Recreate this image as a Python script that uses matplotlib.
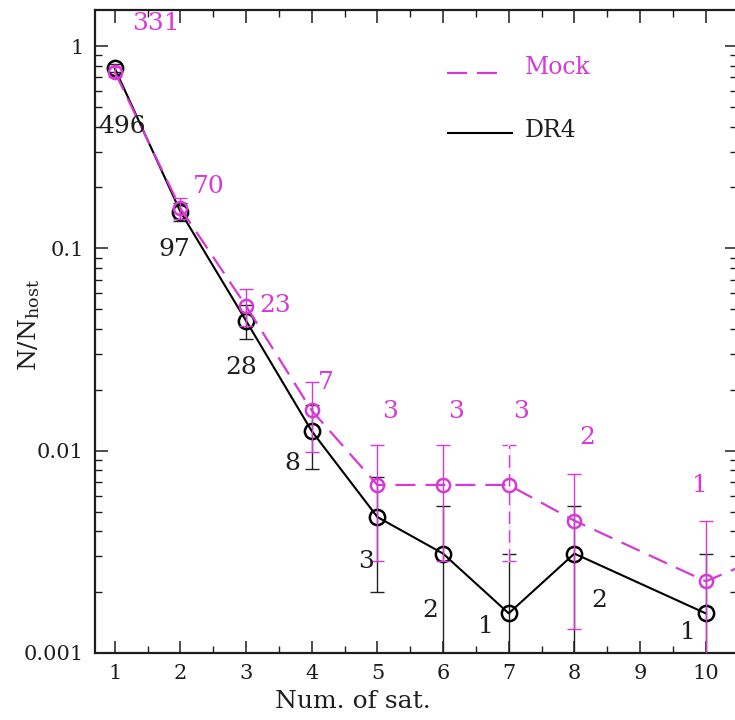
import numpy as np
import matplotlib
matplotlib.use("Agg")
import matplotlib.pyplot as plt
from matplotlib.ticker import FixedLocator, FixedFormatter, MultipleLocator, LogLocator, NullFormatter

plt.rcParams['font.family'] = ['DejaVu Serif']
plt.rcParams['mathtext.fontset'] = 'dejavuserif'

# ---------------- data ----------------
nsat_dr4 = [1, 2, 3, 4, 5, 6, 7, 8, 10]
frac_dr4 = [0.777, 0.152, 0.0439, 0.0125, 0.0047, 0.0031, 0.00157, 0.0031, 0.00157]
lo_dr4 = [0.745, 0.137, 0.0356, 0.0081, 0.0020, 0.0009, 0.0001, 0.0009, 0.0001]
hi_dr4 = [0.811, 0.168, 0.0522, 0.0169, 0.0074, 0.0053, 0.0031, 0.0053, 0.0031]
count_dr4 = ["496", "97", "28", "8", "3", "2", "1", "2", "1"]

nsat_mock = [1, 2, 3, 4, 5, 6, 7, 8, 10, 11]
frac_mock = [0.747, 0.158, 0.0519, 0.0158, 0.00677, 0.00677, 0.00677, 0.00451, 0.00226, 0.0031]
lo_mock = [0.706, 0.139, 0.0411, 0.0098, 0.00286, 0.00286, 0.00286, 0.00132, 0.0001, 0.0001]
hi_mock = [0.788, 0.177, 0.0628, 0.0218, 0.0107, 0.0107, 0.0107, 0.0077, 0.0045, 0.0062]
count_mock = ["331", "70", "23", "7", "3", "3", "3", "2", "1", ""]

xticks = [1, 2, 3, 4, 5, 6, 7, 8, 9, 10]
yticks = [0.001, 0.01, 0.1, 1]
ytick_labels = ["0.001", "0.01", "0.1", "1"]

# label offsets (pixels) relative to each point
off_dr4 = [(7, -58), (-6, -38), (-5, -47), (-19, -32), (-11, -44), (-13, -57), (-23, -13), (25, -47), (-18, -19)]
off_mock = [(41, 48), (28, 22), (29, 0), (14, 28), (13, 73), (13, 73), (12, 73), (13, 83), (-6, 96), (0, 0)]

MAG = '#d63ad6'
INK = '#1e1e1e'

fig = plt.figure(figsize=(7.35, 7.2), dpi=100)
ax = fig.add_axes([95/735, 67/720, (737-95)/735, 643/720])
ax.set_yscale('log')
ax.set_xlim(0.7, 10.476)
ax.set_ylim(0.001, 10**(36/202))

# DR4
y = np.array(frac_dr4)
yerr = [y - np.array(lo_dr4), np.array(hi_dr4) - y]
ax.errorbar(nsat_dr4, y, yerr=yerr, fmt='none', ecolor='#222222', elinewidth=1.0,
            capsize=5, capthick=1.0, zorder=2)
ax.plot(nsat_dr4, y, '-', color='black', lw=1.5, zorder=3)
ax.plot(nsat_dr4, y, 'o', mfc='none', mec='black', mew=1.8, ms=11, zorder=4)

# Mock
ym = np.array(frac_mock)
yerrm = [ym - np.array(lo_mock), np.array(hi_mock) - ym]
eb = ax.errorbar(nsat_mock, ym, yerr=yerrm, fmt='none', ecolor=MAG, elinewidth=1.0,
                 capsize=5, capthick=1.0, zorder=5)
# the error bar at 7 satellites is drawn dashed in the original
i7 = nsat_mock.index(7)
ax.plot([7, 7], [lo_mock[i7], hi_mock[i7]], color='white', lw=1.6, zorder=5.5)
ax.plot([7, 7], [lo_mock[i7], hi_mock[i7]], color=MAG, lw=1.0,
        linestyle=(0, (9, 4.5)), zorder=5.6)
ax.plot(nsat_mock, ym, color=MAG, lw=1.6, linestyle=(0, (9, 4.5)), zorder=6)
ax.plot(nsat_mock, ym, 'o', mfc='none', mec=MAG, mew=1.8, ms=9.5, zorder=7)

for xi, yi, t, (dx, dy) in zip(nsat_dr4, frac_dr4, count_dr4, off_dr4):
    ax.annotate(t, (xi, yi), xytext=(dx, dy), textcoords='offset pixels',
                ha='center', va='center', fontsize=18, color=INK, zorder=8)
for xi, yi, t, (dx, dy) in zip(nsat_mock, frac_mock, count_mock, off_mock):
    if t:
        ax.annotate(t, (xi, yi), xytext=(dx, dy), textcoords='offset pixels',
                    ha='center', va='center', fontsize=18, color=MAG, zorder=8)

# legend (manual)
ax.plot([0.548, 0.642], [0.902, 0.902], transform=ax.transAxes, color=MAG, lw=1.6,
        linestyle=(0, (9, 4.5)))
ax.text(0.670, 0.910, "Mock", transform=ax.transAxes, color=MAG, fontsize=17,
        ha='left', va='center')
ax.plot([0.550, 0.650], [0.809, 0.809], transform=ax.transAxes, color='black', lw=1.5)
ax.text(0.670, 0.813, "DR4", transform=ax.transAxes, color=INK, fontsize=17,
        ha='left', va='center')

# ticks
ax.xaxis.set_major_locator(FixedLocator(xticks))
ax.xaxis.set_minor_locator(MultipleLocator(0.5))
ax.yaxis.set_major_locator(FixedLocator(yticks))
ax.yaxis.set_major_formatter(FixedFormatter(ytick_labels))
ax.yaxis.set_minor_locator(LogLocator(base=10, subs=np.arange(2, 10)))
ax.yaxis.set_minor_formatter(NullFormatter())
ax.tick_params(which='both', direction='in', top=True, right=True, labelsize=15,
               colors=INK)
ax.tick_params(which='major', length=9, width=1.1, pad=8)
ax.tick_params(which='minor', length=5, width=1.0)
for s in ax.spines.values():
    s.set_linewidth(1.6)
    s.set_color(INK)

ax.set_xlabel("Num. of sat.", fontsize=18, color=INK)
ax.xaxis.set_label_coords(0.402, -0.058)
ax.set_ylabel(r"N/N$_{\mathrm{host}}$", fontsize=18, color=INK)
ax.yaxis.set_label_coords(-0.083, 0.51)

fig.savefig("out.png", dpi=100)
